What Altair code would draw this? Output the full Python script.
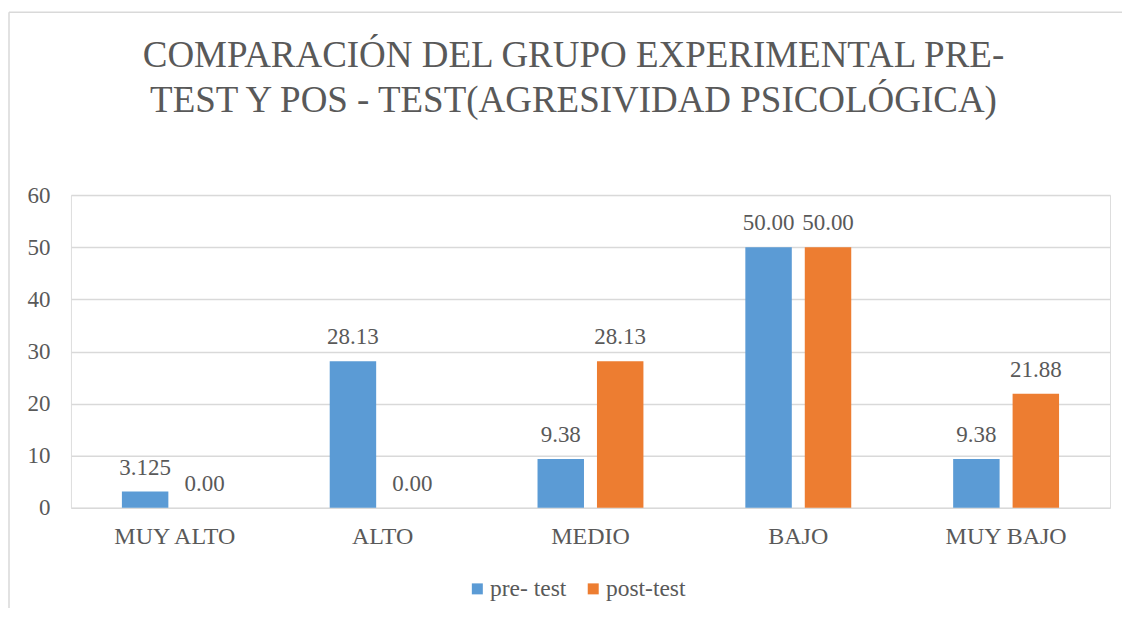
import altair as alt
import pandas as pd

categories = ["MUY ALTO", "ALTO", "MEDIO", "BAJO", "MUY BAJO"]
series = ["pre- test", "post-test"]
pre_values = [3.125, 28.13, 9.38, 50.00, 9.38]
post_values = [0.00, 0.00, 28.13, 50.00, 21.88]
pre_labels = ["3.125", "28.13", "9.38", "50.00", "9.38"]
post_labels = ["0.00", "0.00", "28.13", "50.00", "21.88"]
y_ticks = [0, 10, 20, 30, 40, 50, 60]

rows = []
for i, c in enumerate(categories):
    rows.append({"cat": c, "serie": series[0], "value": pre_values[i], "label": pre_labels[i]})
    rows.append({"cat": c, "serie": series[1], "value": post_values[i], "label": post_labels[i]})
df = pd.DataFrame(rows)

FONT = "Liberation Serif, 'Times New Roman', serif"
TXT = "#595959"
GRID = "#D9D9D9"

x_enc = alt.X("cat:N", sort=categories, title=None,
              scale=alt.Scale(paddingInner=0.4904, paddingOuter=0.2452),
              axis=alt.Axis(labelAngle=0, domain=False, ticks=False, labelPadding=17,
                            labelFont=FONT, labelFontSize=24, labelColor=TXT))
xoff = alt.XOffset("serie:N", sort=series, scale=alt.Scale(paddingInner=0.2185, paddingOuter=0))
y_enc = alt.Y("value:Q", title=None,
              scale=alt.Scale(domain=[0, 60], nice=False),
              axis=alt.Axis(values=y_ticks, domain=False, ticks=False, labelPadding=21,
                            gridColor=GRID, gridWidth=1.5,
                            labelFont=FONT, labelFontSize=23, labelColor=TXT))
color = alt.Color("serie:N", sort=series, title=None,
                  scale=alt.Scale(domain=series, range=["#5B9BD5", "#ED7D31"]),
                  legend=alt.Legend(orient="none", legendX=395, legendY=382, direction="horizontal",
                                    symbolType="square", symbolSize=121, symbolStrokeWidth=0,
                                    labelFont=FONT, labelFontSize=23.5, labelColor=TXT,
                                    labelOffset=1, columnPadding=15, padding=0))

bars = alt.Chart(df).mark_bar().encode(x=x_enc, xOffset=xoff, y=y_enc, color=color)
labels = alt.Chart(df).mark_text(baseline="alphabetic", dy=-17, font=FONT, fontSize=23, color=TXT).encode(
    x=alt.X("cat:N", sort=categories), xOffset=alt.XOffset("serie:N", sort=series), y="value:Q", text="label:N")

border_data = alt.Data(values=[{"k": 1}])
top_border = alt.Chart(border_data).mark_rule(color=GRID, strokeWidth=1.5).encode(
    x=alt.value(-62), x2=alt.value(1200), y=alt.value(-183))
left_border = alt.Chart(border_data).mark_rule(color=GRID, strokeWidth=1.5).encode(
    x=alt.value(-62), y=alt.value(-183), y2=alt.value(1000))

chart = alt.layer(top_border, left_border, bars, labels).properties(
    width=1040, height=313,
    title=alt.TitleParams(["COMPARACIÓN DEL GRUPO EXPERIMENTAL PRE-",
                           "TEST Y POS - TEST(AGRESIVIDAD PSICOLÓGICA)"],
                          font=FONT, fontSize=37, fontWeight="normal", color=TXT,
                          lineHeight=45, anchor="middle", dx=-17, dy=109, offset=0),
    autosize=alt.AutoSizeParams(type="none"),
    padding={"left": 63, "top": 187, "right": 12, "bottom": 100},
).configure_view(stroke=None).configure(background="white", font=FONT)

chart.save("out.html", embed_options={"renderer": "svg", "actions": False})
